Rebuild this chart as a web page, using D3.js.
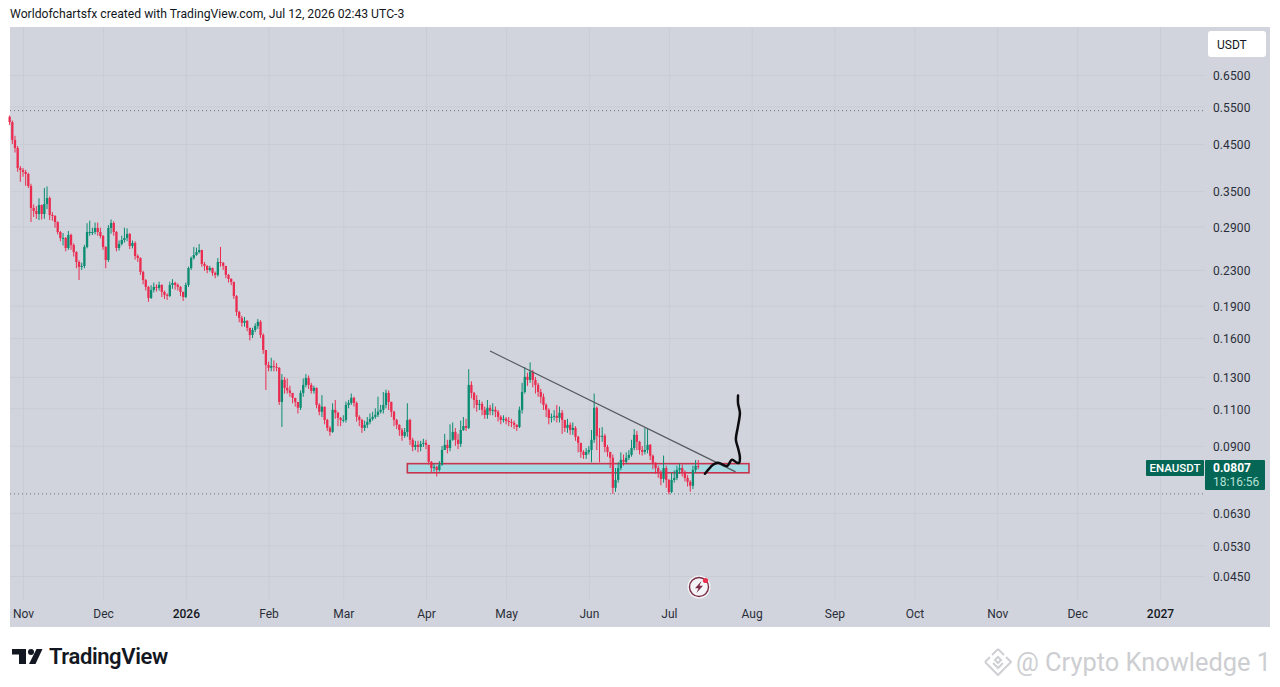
<!DOCTYPE html>
<html>
<head>
<meta charset="utf-8">
<title>ENAUSDT</title>
<script src="https://cdn.jsdelivr.net/npm/d3@7"></script>
<style>
  html, body { margin: 0; padding: 0; background: #fff; }
  svg { display: block; }
  text { font-family: Roboto, sans-serif; }
</style>
</head>
<body>
<div id="chart"></div>
<script>
// daily candles, first one is this date, open = previous close
const firstCandle = "2025-10-27";
const firstOpen = 0.5200;

const closes = [
  .5056,.4596,.4404,.3958,.3917,.3875,.3835,.3598,.3199,.3148,
  .3098,.3250,.3098,.3268,.3374,.3082,.3066,.2969,.2815,.2726,
  .2726,.2585,.2771,.2627,.2530,.2399,.2337,.2349,.2599,.2815,
  .2815,.2815,.2876,.2815,.2756,.2599,.2425,.2876,.2953,.2815,
  .2585,.2641,.2697,.2726,.2786,.2613,.2655,.2477,.2451,.2275,
  .2180,.2101,.1981,.2067,.2101,.2090,.2123,.2045,.2013,.2002,
  .2123,.2146,.2123,.2101,.2045,.1991,.2123,.2323,.2451,.2490,
  .2530,.2557,.2374,.2349,.2299,.2323,.2263,.2240,.2399,.2387,
  .2349,.2240,.2192,.2157,.2002,.1838,.1781,.1735,.1753,.1688,
  .1626,.1670,.1706,.1744,.1626,.1501,.1386,.1365,.1379,.1372,
  .1365,.1138,.1280,.1226,.1210,.1194,.1163,.1138,.1103,.1194,
  .1246,.1293,.1246,.1207,.1226,.1120,.1080,.1109,.1034,.0991,
  .0970,.1091,.1074,.1045,.1034,.1034,.1120,.1132,.1163,.1132,
  .1051,.1034,.0991,.1007,.1023,.1040,.1051,.1062,.1080,.1091,
  .1120,.1194,.1138,.1080,.1034,.1007,.0980,.0950,.0970,.1034,
  .0930,.0895,.0905,.0895,.0910,.0915,.0905,.0827,.0800,.0805,
  .0792,.0814,.0881,.0905,.0890,.0930,.0970,.0930,.0910,.0980,
  .1001,.0991,.1246,.1194,.1150,.1120,.1126,.1091,.1062,.1103,
  .1085,.1091,.1080,.1051,.1034,.1040,.1028,.1023,.1018,.1007,
  .0996,.1091,.1200,.1301,.1280,.1336,.1280,.1246,.1200,.1169,
  .1120,.1091,.1045,.1051,.1057,.1045,.1074,.1034,.0991,.1007,
  .0980,.0991,.0945,.0915,.0872,.0858,.0872,.0881,.0930,.1103,
  .0950,.0945,.0950,.0895,.0872,.0845,.0720,.0751,.0800,.0836,
  .0827,.0845,.0858,.0890,.0955,.0920,.0881,.0872,.0881,.0905,
  .0854,.0823,.0800,.0784,.0755,.0800,.0751,.0704,.0751,.0759,
  .0792,.0800,.0784,.0759,.0743,.0728,.0792,.0809,.0807
];

const highs = [
  .5240,.5100,.4700,.4450,.4000,.3960,.3920,.3860,.3640,.3260,
  .3230,.3370,.3260,.3560,.3590,.3400,.3130,.3080,.2980,.2830,
  .2800,.2740,.2830,.2790,.2650,.2540,.2420,.2390,.2630,.2950,
  .2990,.2880,.2960,.2960,.2880,.2770,.2610,.2920,.3010,.2980,
  .2830,.2690,.2760,.2880,.2870,.2800,.2690,.2680,.2500,.2460,
  .2290,.2190,.2110,.2120,.2150,.2130,.2160,.2130,.2060,.2030,
  .2160,.2190,.2160,.2140,.2110,.2050,.2150,.2340,.2470,.2600,
  .2590,.2640,.2560,.2400,.2360,.2350,.2330,.2280,.2450,.2600,
  .2400,.2350,.2250,.2200,.2160,.2010,.1850,.1800,.1790,.1760,
  .1690,.1690,.1730,.1770,.1760,.1640,.1500,.1410,.1440,.1420,
  .1400,.1370,.1320,.1300,.1290,.1240,.1190,.1160,.1130,.1210,
  .1290,.1320,.1310,.1260,.1240,.1230,.1130,.1180,.1110,.1040,
  .1000,.1130,.1150,.1080,.1050,.1060,.1140,.1150,.1190,.1170,
  .1140,.1060,.1040,.1030,.1050,.1070,.1080,.1100,.1170,.1120,
  .1200,.1215,.1210,.1140,.1085,.1040,.1010,.0990,.0990,.1130,
  .1040,.0940,.0925,.0925,.0925,.0935,.0930,.0905,.0830,.0820,
  .0810,.0830,.0900,.0960,.0930,.1010,.1020,.0990,.0960,.1030,
  .1050,.1040,.1355,.1270,.1200,.1180,.1150,.1140,.1110,.1150,
  .1120,.1130,.1110,.1090,.1060,.1060,.1050,.1050,.1040,.1030,
  .1010,.1110,.1260,.1370,.1330,.1405,.1350,.1300,.1260,.1220,
  .1190,.1130,.1100,.1070,.1090,.1120,.1110,.1090,.1030,.1040,
  .1020,.1020,.1000,.0950,.0900,.0880,.0890,.0900,.0980,.1190,
  .1110,.0990,.0995,.0960,.0905,.0870,.0860,.0800,.0825,.0870,
  .0860,.0870,.0880,.0930,.0985,.0975,.0925,.0900,.0990,.0985,
  .0910,.0860,.0825,.0810,.0790,.0855,.0810,.0755,.0780,.0790,
  .0810,.0820,.0815,.0790,.0770,.0750,.0810,.0835,.0835
];

const lows = [
  .4980,.4500,.4300,.3880,.3680,.3780,.3600,.3560,.2970,.3050,
  .3020,.3000,.3010,.3020,.3180,.3000,.2990,.2880,.2780,.2680,
  .2620,.2540,.2560,.2560,.2470,.2320,.2180,.2300,.2320,.2580,
  .2760,.2770,.2780,.2760,.2720,.2560,.2320,.2400,.2790,.2760,
  .2540,.2550,.2620,.2660,.2680,.2570,.2580,.2430,.2400,.2240,
  .2130,.2060,.1940,.1970,.2040,.2050,.2060,.1990,.1970,.1960,
  .1990,.2080,.2070,.2060,.2000,.1950,.1980,.2100,.2300,.2430,
  .2480,.2510,.2340,.2290,.2260,.2280,.2230,.2200,.2220,.2340,
  .2300,.2200,.2150,.2120,.1970,.1800,.1740,.1700,.1700,.1660,
  .1580,.1600,.1650,.1680,.1600,.1470,.1213,.1340,.1340,.1340,
  .1340,.1120,.0996,.1190,.1190,.1170,.1130,.1110,.1070,.1090,
  .1170,.1230,.1220,.1190,.1190,.1100,.1060,.1050,.1010,.0975,
  .0950,.0965,.1040,.1000,.1000,.1020,.1020,.1100,.1120,.1110,
  .1025,.1000,.0965,.0975,.0990,.1010,.1030,.1040,.1050,.1070,
  .1070,.1100,.1090,.1050,.1000,.0985,.0950,.0925,.0940,.0945,
  .0905,.0875,.0880,.0870,.0875,.0895,.0885,.0815,.0780,.0785,
  .0765,.0785,.0810,.0880,.0865,.0875,.0925,.0900,.0885,.0895,
  .0975,.0975,.0985,.1160,.1100,.1080,.1090,.1060,.1040,.1040,
  .1060,.1060,.1050,.1025,.1010,.1020,.1010,.1000,.0995,.0985,
  .0975,.0990,.1070,.1190,.1240,.1260,.1230,.1190,.1170,.1130,
  .1090,.1050,.1010,.1020,.1030,.1020,.1020,.0960,.0970,.0965,
  .0955,.0955,.0925,.0870,.0845,.0840,.0840,.0860,.0825,.0915,
  .0880,.0825,.0920,.0870,.0850,.0800,.0697,.0705,.0740,.0790,
  .0810,.0820,.0835,.0850,.0880,.0880,.0860,.0855,.0860,.0865,
  .0835,.0795,.0775,.0760,.0730,.0740,.0720,.0695,.0700,.0740,
  .0750,.0775,.0765,.0745,.0725,.0705,.0715,.0780,.0795
];

const priceTicks = [0.65, 0.55, 0.45, 0.35, 0.29, 0.23, 0.19, 0.16, 0.13, 0.11, 0.09, 0.063, 0.053, 0.045];
const timeTicks = ["2025-11-01","2025-12-01","2026-01-01","2026-02-01","2026-03-01","2026-04-01","2026-05-01",
  "2026-06-01","2026-07-01","2026-08-01","2026-09-01","2026-10-01","2026-11-01","2026-12-01","2027-01-01"];
const timeLabels = ["Nov","Dec","2026","Feb","Mar","Apr","May","Jun","Jul","Aug","Sep","Oct","Nov","Dec","2027"];

// dotted high / low of the visible range
const rangeLines = [0.5375, 0.0697];

// drawings on the chart
const zoneDates = ["2026-03-25", "2026-07-31"];
const zonePrices = [0.0819, 0.0780];
const trendDates = ["2026-04-25", "2026-07-26"];
const trendPrices = [0.1493, 0.0784];
// hand drawn path, days after 2025-11-01
const sketchDays = [255.5, 256.7, 258.5, 260.4, 263.8, 265.6, 267.5, 268.3, 268.6, 267.9, 267.1, 267.9, 268.6, 267.9, 267.9];
const sketchPrices = [.0776, .0792, .0814, .0823, .0809, .0836, .0823, .0823, .0849, .0890, .0930, .1001, .1074, .1130, .1178];

const width = 1280, height = 687;
const up = "#0a8c72", down = "#ea2c50";
const grid = "#c9ccd5";

const svg = d3.select("#chart").append("svg")
  .attr("width", width)
  .attr("height", height);

svg.append("rect").attr("width", width).attr("height", height).attr("fill", "#fff");

svg.append("text")
  .attr("x", 10).attr("y", 18)
  .attr("font-size", 12.2)
  .attr("fill", "#131722")
  .text("Worldofchartsfx created with TradingView.com, Jul 12, 2026 02:43 UTC-3");

// pane
svg.append("rect")
  .attr("x", 10).attr("y", 27)
  .attr("width", 1260).attr("height", 600)
  .attr("fill", "#d1d4dc");

const parse = d3.utcParse("%Y-%m-%d");
const x = d3.scaleUtc()
  .domain([parse("2025-11-01"), parse("2027-01-01")])
  .range([23, 1160]);
const y = d3.scaleLog()
  .domain([0.65, 0.045])
  .range([75, 576]);

const startDate = parse(firstCandle);
const candles = closes.map((c, i) => ({
  date: d3.utcDay.offset(startDate, i),
  open: i === 0 ? firstOpen : closes[i - 1],
  close: c,
  high: highs[i],
  low: lows[i]
}));

// price axis + horizontal grid
const yAxis = svg.append("g")
  .attr("transform", "translate(1205,0)")
  .call(d3.axisRight(y)
    .tickValues(priceTicks)
    .tickFormat(d3.format(".4f"))
    .tickSize(-1195)
    .tickPadding(8));
yAxis.select(".domain").remove();
yAxis.selectAll("line").attr("stroke", grid).attr("stroke-width", 1);
yAxis.selectAll("text")
  .attr("dy", "0.4em")
  .attr("font-size", 12)
  .attr("letter-spacing", "0.1px")
  .attr("fill", "#2a2e39");

// time axis + vertical grid
const xAxis = svg.append("g")
  .attr("transform", "translate(0,600)")
  .call(d3.axisBottom(x)
    .tickValues(timeTicks.map(parse))
    .tickFormat((d, i) => timeLabels[i])
    .tickSize(-573)
    .tickPadding(9));
xAxis.select(".domain").remove();
xAxis.selectAll("line").attr("stroke", grid).attr("stroke-width", 1);
xAxis.selectAll("text")
  .attr("font-size", 12)
  .attr("fill", "#2a2e39");
xAxis.selectAll(".tick text")
  .filter(function () { return /^20/.test(d3.select(this).text()); })
  .attr("fill", "#131722")
  .attr("font-weight", 500);

// dotted range lines
svg.append("g").selectAll("line")
  .data(rangeLines)
  .join("line")
  .attr("x1", 10).attr("x2", 1205)
  .attr("y1", d => y(d)).attr("y2", d => y(d))
  .attr("stroke", "#6a6e78")
  .attr("stroke-width", 1)
  .attr("stroke-dasharray", "1 3");

// support zone, goes under the candles
svg.append("rect")
  .attr("x", x(parse(zoneDates[0])))
  .attr("y", y(zonePrices[0]))
  .attr("width", x(parse(zoneDates[1])) - x(parse(zoneDates[0])))
  .attr("height", y(zonePrices[1]) - y(zonePrices[0]))
  .attr("fill", "#a6d9e2")
  .attr("stroke", "#c8344e")
  .attr("stroke-width", 1.6);

const candle = svg.append("g").selectAll("g")
  .data(candles)
  .join("g")
  .attr("transform", d => `translate(${x(d.date)},0)`)
  .attr("fill", d => d.close >= d.open ? up : down)
  .attr("stroke", d => d.close >= d.open ? up : down);

candle.append("line")
  .attr("y1", d => y(d.high))
  .attr("y2", d => y(d.low))
  .attr("stroke-width", 1);

candle.append("rect")
  .attr("x", -1.15)
  .attr("width", 2.3)
  .attr("y", d => y(Math.max(d.open, d.close)))
  .attr("height", d => Math.max(1, Math.abs(y(d.open) - y(d.close))))
  .attr("stroke", "none");

// trend line
svg.append("line")
  .attr("x1", x(parse(trendDates[0]))).attr("y1", y(trendPrices[0]))
  .attr("x2", x(parse(trendDates[1]))).attr("y2", y(trendPrices[1]))
  .attr("stroke", "#55585f")
  .attr("stroke-width", 1.2);

// hand drawn arrow path
const sketchBase = parse("2025-11-01").getTime();
const sketch = d3.line()
  .x((d, i) => x(new Date(sketchBase + d * 864e5)))
  .y((d, i) => y(sketchPrices[i]))
  .curve(d3.curveCatmullRom);
svg.append("path")
  .attr("d", sketch(sketchDays))
  .attr("fill", "none")
  .attr("stroke", "#0c0c10")
  .attr("stroke-width", 2.5)
  .attr("stroke-linecap", "round");

// USDT button
svg.append("rect")
  .attr("x", 1208).attr("y", 31)
  .attr("width", 58).attr("height", 26)
  .attr("rx", 3)
  .attr("fill", "#fff");
svg.append("text")
  .attr("x", 1217).attr("y", 49)
  .attr("font-size", 12)
  .attr("fill", "#131722")
  .text("USDT");

// last price label
svg.append("rect")
  .attr("x", 1146).attr("y", 460)
  .attr("width", 58).attr("height", 16)
  .attr("rx", 1)
  .attr("fill", "#056656");
svg.append("text")
  .attr("x", 1175).attr("y", 472)
  .attr("text-anchor", "middle")
  .attr("font-size", 11.5)
  .attr("font-weight", 500)
  .attr("fill", "#fff")
  .text("ENAUSDT");
svg.append("rect")
  .attr("x", 1205).attr("y", 460)
  .attr("width", 60).attr("height", 30)
  .attr("rx", 1)
  .attr("fill", "#056656");
svg.append("text")
  .attr("x", 1213).attr("y", 472)
  .attr("font-size", 12)
  .attr("font-weight", 700)
  .attr("fill", "#fff")
  .text("0.0807");
svg.append("text")
  .attr("x", 1213).attr("y", 486)
  .attr("font-size", 12)
  .attr("fill", "#b5e0d5")
  .text("18:16:56");

// lightning badge on the time axis
const badge = svg.append("g").attr("transform", "translate(699,587)");
badge.append("circle").attr("r", 11.5).attr("fill", "#fff").attr("opacity", 0.75);
badge.append("circle").attr("r", 9.5).attr("fill", "none").attr("stroke", "#7b2f47").attr("stroke-width", 1.4);
badge.append("path")
  .attr("d", "M2.5,-6 L-4,1.2 L-0.5,1.2 L-2.5,6 L4,-1.2 L0.5,-1.2 Z")
  .attr("fill", "#7b2f47");
badge.append("circle").attr("cx", 6.5).attr("cy", -6.5).attr("r", 2.6).attr("fill", "#e8304f");

// TradingView logo
const logo = svg.append("g").attr("fill", "#131722");
logo.append("path").attr("d", "M12,649 H26 V664 H19 V654.5 H12 Z");
logo.append("circle").attr("cx", 31).attr("cy", 652).attr("r", 3);
logo.append("path").attr("d", "M36.5,649 H42.5 L35.5,664 H29 Z");
svg.append("text")
  .attr("x", 49).attr("y", 664)
  .attr("font-family", "Inter, sans-serif")
  .attr("font-size", 22)
  .attr("font-weight", 600)
  .attr("letter-spacing", "-0.4px")
  .attr("fill", "#131722")
  .text("TradingView");

// watermark
const mark = svg.append("g")
  .attr("transform", "translate(998,662)")
  .attr("fill", "none")
  .attr("stroke", "#cfd0d4")
  .attr("stroke-width", 2);
mark.append("path").attr("d", "M0,-13 L6,-7 M0,-13 L-6,-7 M-13,0 L-8,-5 M-13,0 L0,13 L13,0 L8,-5 M-5,1 L0,6 L5,1 M0,-5 L3,-2 L0,1 L-3,-2 Z");
svg.append("text")
  .attr("x", 1016).attr("y", 671)
  .attr("font-family", "'Open Sans', sans-serif")
  .attr("font-size", 25.4)
  .attr("fill", "#cdced1")
  .text("@ Crypto Knowledge 1");
</script>
</body>
</html>
